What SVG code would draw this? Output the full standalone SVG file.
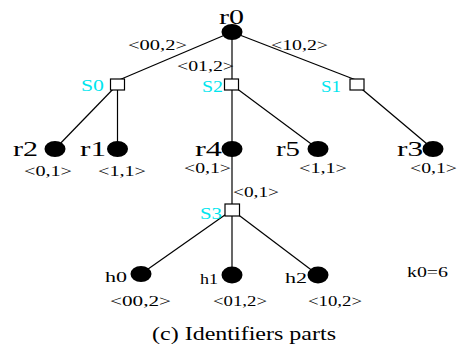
<svg xmlns="http://www.w3.org/2000/svg" width="459" height="347" viewBox="0 0 459 347" font-family="Liberation Serif, Times New Roman, serif">
  <style>
    .node { font-size: 21px; }
    .id { font-size: 15px; }
    .sw { font-size: 16px; fill: #00e5ee; }
    .host { font-size: 15px; }
    .edge { stroke: #000; stroke-width: 1.2; fill: none; }
    .dot { fill: #000; }
    .box { fill: #fff; stroke: #000; stroke-width: 1.2; }
  </style>
  <rect width="459" height="347" fill="#fff"/>

  <!-- connectors -->
  <g id="edges">
    <line class="edge" x1="232" y1="32" x2="119" y2="80"/>
    <line class="edge" x1="232" y1="32" x2="232" y2="85"/>
    <line class="edge" x1="232" y1="32" x2="356" y2="80"/>
    <line class="edge" x1="117.5" y1="84.5" x2="55" y2="149"/>
    <line class="edge" x1="117.5" y1="84.5" x2="117.5" y2="149"/>
    <line class="edge" x1="232" y1="85" x2="232" y2="210"/>
    <line class="edge" x1="232" y1="85" x2="318" y2="149"/>
    <line class="edge" x1="357" y1="85" x2="433" y2="149"/>
    <line class="edge" x1="232" y1="210" x2="141" y2="274"/>
    <line class="edge" x1="232" y1="210" x2="232" y2="275"/>
    <line class="edge" x1="232" y1="210" x2="318" y2="275"/>
  </g>

  <!-- edge identifiers -->
  <g id="edge-labels">
    <text class="id" x="128" y="50" textLength="59" lengthAdjust="spacingAndGlyphs">&lt;00,2&gt;</text>
    <text class="id" x="177" y="71" textLength="57" lengthAdjust="spacingAndGlyphs">&lt;01,2&gt;</text>
    <text class="id" x="271" y="50" textLength="57" lengthAdjust="spacingAndGlyphs">&lt;10,2&gt;</text>
    <text class="id" x="233" y="197" textLength="46" lengthAdjust="spacingAndGlyphs">&lt;0,1&gt;</text>
  </g>

  <g id="r0">
    <ellipse class="dot" cx="232" cy="32" rx="10.5" ry="8"/>
    <text class="node" x="219" y="24" textLength="25" lengthAdjust="spacingAndGlyphs">r0</text>
  </g>

  <g id="S0">
    <rect class="box" x="110.5" y="79" width="14" height="11"/>
    <text class="sw" x="81" y="91" textLength="23" lengthAdjust="spacingAndGlyphs">S0</text>
  </g>
  <g id="S2">
    <rect class="box" x="224.5" y="79" width="14" height="11"/>
    <text class="sw" x="202" y="92" textLength="21" lengthAdjust="spacingAndGlyphs">S2</text>
  </g>
  <g id="S1">
    <rect class="box" x="350" y="79" width="14" height="11"/>
    <text class="sw" x="321" y="92" textLength="20" lengthAdjust="spacingAndGlyphs">S1</text>
  </g>

  <g id="r2">
    <ellipse class="dot" cx="55" cy="149" rx="10.5" ry="8"/>
    <text class="node" x="13" y="156" textLength="25" lengthAdjust="spacingAndGlyphs">r2</text>
    <text class="id" x="24" y="176" textLength="48" lengthAdjust="spacingAndGlyphs">&lt;0,1&gt;</text>
  </g>
  <g id="r1">
    <ellipse class="dot" cx="117.5" cy="149" rx="10.5" ry="8"/>
    <text class="node" x="80" y="156" textLength="26" lengthAdjust="spacingAndGlyphs">r1</text>
    <text class="id" x="98" y="176" textLength="48" lengthAdjust="spacingAndGlyphs">&lt;1,1&gt;</text>
  </g>
  <g id="r4">
    <ellipse class="dot" cx="232" cy="149" rx="10.5" ry="8"/>
    <text class="node" x="195" y="156" textLength="27" lengthAdjust="spacingAndGlyphs">r4</text>
    <text class="id" x="184" y="173" textLength="47" lengthAdjust="spacingAndGlyphs">&lt;0,1&gt;</text>
  </g>
  <g id="r5">
    <ellipse class="dot" cx="318" cy="149" rx="10.5" ry="8"/>
    <text class="node" x="276" y="156" textLength="24" lengthAdjust="spacingAndGlyphs">r5</text>
    <text class="id" x="299" y="173" textLength="48" lengthAdjust="spacingAndGlyphs">&lt;1,1&gt;</text>
  </g>
  <g id="r3">
    <ellipse class="dot" cx="433" cy="149" rx="10.5" ry="8"/>
    <text class="node" x="397" y="156" textLength="26" lengthAdjust="spacingAndGlyphs">r3</text>
    <text class="id" x="410" y="173" textLength="47" lengthAdjust="spacingAndGlyphs">&lt;0,1&gt;</text>
  </g>

  <g id="S3">
    <rect class="box" x="225" y="204" width="14.5" height="12"/>
    <text class="sw" x="200" y="219" textLength="22" lengthAdjust="spacingAndGlyphs">S3</text>
  </g>

  <g id="h0">
    <ellipse class="dot" cx="141" cy="274" rx="10.5" ry="8"/>
    <text class="host" x="105" y="282" textLength="22" lengthAdjust="spacingAndGlyphs">h0</text>
    <text class="id" x="110" y="306" textLength="61" lengthAdjust="spacingAndGlyphs">&lt;00,2&gt;</text>
  </g>
  <g id="h1">
    <ellipse class="dot" cx="232" cy="275" rx="10.5" ry="8.5"/>
    <text class="host" x="200" y="284" textLength="18" lengthAdjust="spacingAndGlyphs">h1</text>
    <text class="id" x="213" y="306" textLength="54" lengthAdjust="spacingAndGlyphs">&lt;01,2&gt;</text>
  </g>
  <g id="h2">
    <ellipse class="dot" cx="318" cy="275" rx="10.5" ry="8.5"/>
    <text class="host" x="285" y="283" textLength="22" lengthAdjust="spacingAndGlyphs">h2</text>
    <text class="id" x="308" y="306" textLength="54" lengthAdjust="spacingAndGlyphs">&lt;10,2&gt;</text>
  </g>

  <text class="id" x="407" y="277" textLength="41" lengthAdjust="spacingAndGlyphs">k0=6</text>

  <text x="152" y="340" font-size="19" textLength="184" lengthAdjust="spacingAndGlyphs">(c) Identifiers parts</text>
</svg>
